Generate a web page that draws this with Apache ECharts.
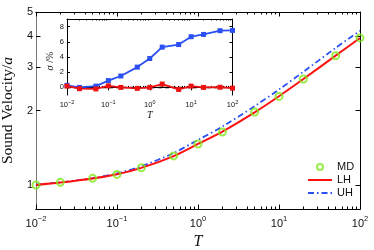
<!DOCTYPE html>
<html>
<head>
<meta charset="utf-8">
<script src="https://cdn.jsdelivr.net/npm/echarts@6/dist/echarts.min.js"></script>
<style>html,body{margin:0;padding:0;background:#fff;}#c{width:374px;height:250px;}</style>
</head>
<body>
<div id="c"></div>
<script>
// ---- data ----
const T = [0.01, 0.02, 0.05, 0.1, 0.2, 0.5, 1, 2, 5, 10, 20, 50, 100];
const md = [1.0, 1.025, 1.064, 1.104, 1.173, 1.311, 1.465, 1.636, 1.97, 2.28, 2.68, 3.33, 3.93];
const lh = [1.001, 1.023, 1.062, 1.106, 1.173, 1.309, 1.465, 1.643, 1.965, 2.284, 2.68, 3.331, 3.926];
const uh = [1.003, 1.025, 1.066, 1.114, 1.191, 1.346, 1.521, 1.723, 2.081, 2.432, 2.867, 3.578, 4.2];
const sigmaUH = [0.27, 0.0, 0.17, 0.9, 1.5, 2.67, 3.8, 5.3, 5.64, 6.67, 6.97, 7.46, 7.5];
const sigmaLH = [0.17, -0.17, -0.2, 0.2, 0.0, -0.13, 0.0, 0.44, -0.27, 0.17, 0.0, 0.02, -0.1];
const zeroRef = [0, 0];
const zeroRefT = [0.01, 100];
// ---- tick labels ----
const xMajor = [0.01, 0.1, 1, 10, 100];
const xMinor = [0.02,0.03,0.04,0.05,0.06,0.07,0.08,0.09,0.2,0.3,0.4,0.5,0.6,0.7,0.8,0.9,2,3,4,5,6,7,8,9,20,30,40,50,60,70,80,90];
const yMain = [1, 2, 3, 4, 5];
const yInset = [0, 2, 4, 6, 8];

const pair = (xs, ys) => xs.map((x, i) => [x, ys[i]]);
const SANS = 'Liberation Sans';
const SERIF = 'Liberation Serif';
const expFmt = v => { const e = Math.round(Math.log10(v)); return '{b|10}{s|' + (e < 0 ? '\u2212' + (-e) : e) + '}'; };
const richMain = { b: { fontSize: 11, fontFamily: SANS, color: '#111', verticalAlign: 'bottom' }, s: { fontSize: 7.5, fontFamily: SANS, color: '#111', verticalAlign: 'bottom', padding: [0, 0, 6, 0] } };
const richInset = { b: { fontSize: 7.5, fontFamily: SANS, color: '#111', verticalAlign: 'bottom' }, s: { fontSize: 5.5, fontFamily: SANS, color: '#111', verticalAlign: 'bottom', padding: [0, 0, 4, 0] } };

const MAIN = { left: 36, top: 12, width: 324, height: 197, outerBoundsMode: 'none', containLabel: false };
const INS = { left: 67, top: 19, width: 165.5, height: 76, outerBoundsMode: 'none', containLabel: false };

function xAx(grid, pos, ticks, len, labels, extra) {
  return Object.assign({
    type: 'log', logBase: 10, min: 0.01, max: 100, gridIndex: grid, position: pos,
    axisLine: { show: true, lineStyle: { color: '#000', width: 1 } },
    axisTick: { show: true, inside: true, length: len, customValues: ticks, lineStyle: { color: '#000', width: 1 } },
    axisLabel: { show: false },
    splitLine: { show: false }, minorTick: { show: false }
  }, extra || {});
}
const noSym = { color: 'rgba(0,0,0,0)', borderColor: 'rgba(0,0,0,0)', borderWidth: 0 };

const option = {
  animation: false,
  backgroundColor: '#fff',
  grid: [
    Object.assign({}, MAIN),
    Object.assign({}, MAIN),
    Object.assign({ show: true, backgroundColor: '#fff', borderWidth: 0, z: 5 }, INS),
    Object.assign({ z: 5 }, INS)
  ],
  xAxis: [
    xAx(0, 'bottom', xMajor, 4.5, true, {
      axisLabel: { show: true, customValues: xMajor, margin: 6, formatter: expFmt, rich: richMain },
      name: 'T', nameLocation: 'middle', nameGap: 14,
      nameTextStyle: { fontFamily: SERIF, fontStyle: 'italic', fontSize: 16, color: '#111' }
    }),
    xAx(0, 'top', xMajor, 4.5),
    xAx(1, 'bottom', xMinor, 2.5),
    xAx(1, 'top', xMinor, 2.5),
    xAx(2, 'bottom', xMajor, 3, true, {
      z: 6,
      axisLabel: { show: true, customValues: xMajor, margin: 4, formatter: expFmt, rich: richInset },
      name: 'T', nameLocation: 'middle', nameGap: 14,
      nameTextStyle: { fontFamily: SERIF, fontStyle: 'italic', fontSize: 10, color: '#111' }
    }),
    xAx(2, 'top', xMajor, 3, false, { z: 6 }),
    xAx(3, 'bottom', xMinor, 1.5, false, { z: 6 }),
    xAx(3, 'top', xMinor, 1.5, false, { z: 6 })
  ],
  yAxis: [
    {
      type: 'log', logBase: 10, min: 0.8, max: 5, gridIndex: 0, position: 'left',
      axisLine: { show: true, lineStyle: { color: '#7a7a7a', width: 1 } },
      axisTick: { show: true, inside: true, length: 4.5, customValues: yMain, lineStyle: { color: '#000' } },
      axisLabel: { show: true, customValues: yMain, margin: 3, fontSize: 11, fontFamily: SANS, color: '#111' },
      splitLine: { show: false }, minorTick: { show: false },
      name: '{r|Sound Velocity/}{i|a}', nameLocation: 'middle', nameGap: 14,
      nameTextStyle: { rich: { r: { fontFamily: SERIF, fontSize: 15.5, color: '#111' }, i: { fontFamily: SERIF, fontStyle: 'italic', fontSize: 15.5, color: '#111' } } }
    },
    {
      type: 'log', logBase: 10, min: 0.8, max: 5, gridIndex: 0, position: 'right',
      axisLine: { show: true, lineStyle: { color: '#000', width: 1 } },
      axisTick: { show: true, inside: true, length: 4.5, customValues: yMain, lineStyle: { color: '#000' } },
      axisLabel: { show: false }, splitLine: { show: false }
    },
    { type: 'log', min: 0.8, max: 5, gridIndex: 1, show: false },
    {
      type: 'value', min: -1, max: 9, gridIndex: 2, position: 'left', z: 6,
      axisLine: { show: true, lineStyle: { color: '#000', width: 1 } },
      axisTick: { show: true, inside: true, length: 3, customValues: yInset, lineStyle: { color: '#000' } },
      axisLabel: { show: true, customValues: yInset, margin: 3, fontSize: 7.5, fontFamily: SANS, color: '#111' },
      splitLine: { show: false },
      name: '{i|\u03c3} /%', nameLocation: 'middle', nameGap: 9,
      nameTextStyle: { rich: { i: { fontFamily: SERIF, fontStyle: 'italic', fontSize: 10.5, color: '#111' } }, fontFamily: SERIF, fontSize: 10, color: '#111', padding: [0, 8, 0, 0] }
    },
    {
      type: 'value', min: -1, max: 9, gridIndex: 2, position: 'right', z: 6,
      axisLine: { show: true, lineStyle: { color: '#000', width: 1 } },
      axisTick: { show: true, inside: true, length: 3, customValues: yInset, lineStyle: { color: '#000' } },
      axisLabel: { show: false }, splitLine: { show: false }
    },
    { type: 'value', min: -1, max: 9, gridIndex: 3, show: false }
  ],
  legend: {
    orient: 'vertical', left: 307, top: 161.5, padding: 0, itemWidth: 24, itemHeight: 6, itemGap: 2,
    textStyle: { fontFamily: SANS, fontSize: 11, color: '#111' },
    data: [
      { name: 'MD', icon: 'circle', itemStyle: { color: '#fff', borderColor: '#7fe81a', borderWidth: 2 } },
      { name: 'LH', itemStyle: noSym },
      { name: 'UH', itemStyle: noSym }
    ]
  },
  series: [
    {
      name: 'UH', type: 'line', xAxisIndex: 0, yAxisIndex: 0, data: pair(T, uh),
      symbol: 'none', smooth: 0.3, z: 3,
      lineStyle: { color: '#2a4ff2', width: 1.8, type: [6, 3, 1.5, 3] }, itemStyle: { color: '#2a4ff2' }
    },
    {
      name: 'LH', type: 'line', xAxisIndex: 0, yAxisIndex: 0, data: pair(T, lh),
      symbol: 'none', smooth: 0.3, z: 4,
      lineStyle: { color: '#ff1010', width: 2 }, itemStyle: { color: '#ff1010' }
    },
    {
      name: 'MD', type: 'scatter', xAxisIndex: 0, yAxisIndex: 0, data: pair(T, md),
      symbol: 'circle', symbolSize: 7, z: 5,
      itemStyle: { color: 'rgba(0,0,0,0)', borderColor: '#7fe81a', borderWidth: 2 }
    },
    {
      name: 'ref', type: 'line', xAxisIndex: 4, yAxisIndex: 3, data: pair(zeroRefT, zeroRef),
      symbol: 'none', z: 7, lineStyle: { color: '#000', width: 1.5, type: [4, 3] }
    },
    {
      name: 'sUH', type: 'line', xAxisIndex: 4, yAxisIndex: 3, data: pair(T, sigmaUH),
      symbol: 'rect', symbolSize: 5, z: 8,
      lineStyle: { color: '#2a4ff2', width: 1.8 }, itemStyle: { color: '#2a4ff2' }
    },
    {
      name: 'sLH', type: 'line', xAxisIndex: 4, yAxisIndex: 3, data: pair(T, sigmaLH),
      symbol: 'rect', symbolSize: 5, z: 8,
      lineStyle: { color: '#ee1111', width: 1.8 }, itemStyle: { color: '#ee1111' }
    }
  ]
};
const chart = echarts.init(document.getElementById('c'), null, { renderer: 'canvas' });
chart.setOption(option);
</script>
</body>
</html>
